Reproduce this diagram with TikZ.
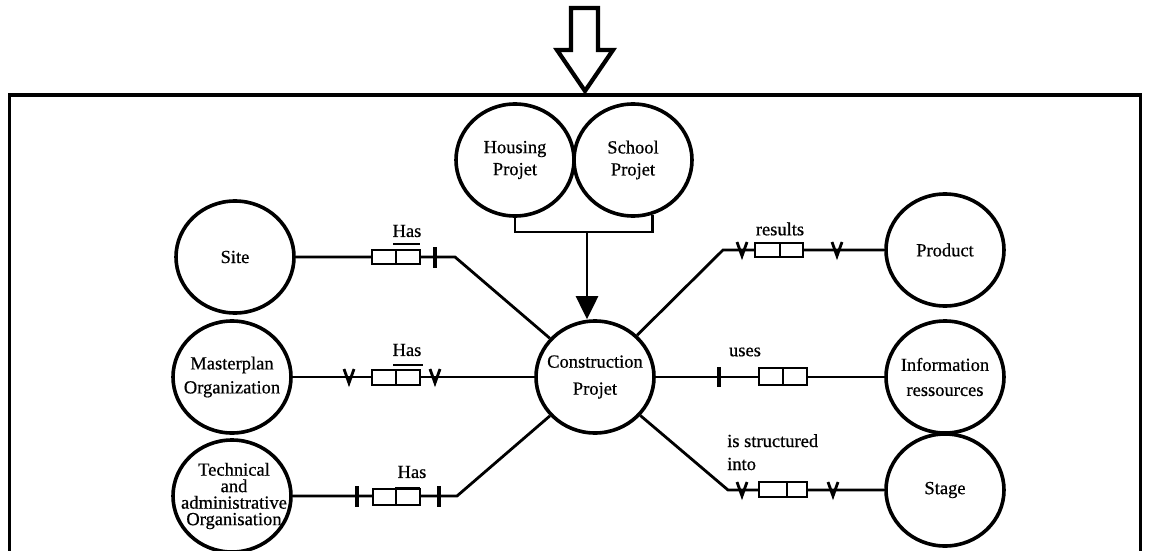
\documentclass[tikz,border=0pt]{standalone}
\usepackage{fontspec}
\setmainfont{Liberation Serif}[FakeBold=0.6]
\usetikzlibrary{shapes.geometric,arrows.meta}
\begin{document}
\begin{tikzpicture}[x=1pt,y=-1pt,
  ent/.style={draw,line width=3.6pt,ellipse,minimum width=118pt,minimum height=112pt,inner sep=0pt},
  etext/.style={align=center,inner sep=0pt,font=\fontsize{18.5}{22}\selectfont},
  conn/.style={line width=2.8pt},
  relbox/.style={line width=2.2pt,fill=white},
  vmark/.style={line width=2.8pt,line join=miter},
  barmark/.style={line width=3.6pt},
  lbl/.style={font=\fontsize{18.5}{22}\selectfont,inner sep=0pt}]
\useasboundingbox (0,0) rectangle (1149,551);
% frame
\draw[line width=3pt] (9,551) -- (9,95) -- (1140,95) -- (1140,551);
% big hollow arrow
\draw[line width=4.2pt,line join=miter,fill=white] (571,8) -- (598,8) -- (598,50) -- (613,50) -- (585,91) -- (557,50) -- (571,50) -- cycle;
% entities
\node[ent] (housing) at (515,160) {};
\node[etext] (thousing) at (housing.center) {Housing\\Projet};
\node[ent] (school) at (633,160) {};
\node[etext] (tschool) at (school.center) {School\\Projet};
\node[ent] (cp) at (595,377) {};
\node[etext,font=\fontsize{18.5}{27}\selectfont] (tcp) at (cp.center) {Construction\\Projet};
\node[ent] (site) at (235,257) {};
\node[etext] (tsite) at (site.center) {Site};
\node[ent] (mp) at (232,377) {};
\node[etext,font=\fontsize{18.5}{24}\selectfont] (tmp) at (mp.center) {Masterplan\\Organization};
\node[ent] (tech) at (232,496) {};
\node[etext,font=\fontsize{18.5}{16.5}\selectfont] (ttech) at ([xshift=2pt]tech.center) {Technical\\and\\administrative\\Organisation};
\node[ent] (prod) at (945,250) {};
\node[etext] (tprod) at (prod.center) {Product};
\node[ent] (info) at (945,377) {};
\node[etext,font=\fontsize{18.5}{25}\selectfont] (tinfo) at (info.center) {Information\\ressources};
\node[ent] (stage) at (945,490) {};
\node[etext] (tstage) at (stage.center) {Stage};
% generalisation bracket
\coordinate (bj) at (587,232);
\draw[conn] (housing.south) -- (housing.south |- bj) -- (bj -| school.290) -- (school.290);
\draw[conn,-{Triangle[width=22pt,length=23pt]}] (bj) -- (bj |- cp.north);
% Site -- has
\coordinate (c1) at (455,257);
\draw[conn] (site.east) -- (c1) -- (cp);
\draw[relbox] (372,250) rectangle (420,264); \draw[line width=2.2pt] (396,250) -- (396,264);
\draw[line width=2.2pt] (393,244) -- (420,244);
\draw[barmark] (435,247) -- (435,268);
\node[lbl] (l1) at (407,231) {Has};
% Masterplan -- has
\draw[conn] (mp.east) -- (cp.west);
\draw[vmark] (344,369) -- (349,383) -- (354,369);
\draw[vmark] (430,369) -- (435,383) -- (440,369);
\draw[relbox] (372,370) rectangle (420,385); \draw[line width=2.2pt] (396,370) -- (396,385);
\draw[line width=2.2pt] (393,365) -- (423,365);
\node[lbl] (l2) at (407,350) {Has};
% Technical -- has
\coordinate (c3) at (457,496);
\draw[conn] (tech.east) -- (c3) -- (cp);
\draw[barmark] (357,486) -- (357,507);
\draw[barmark] (439,486) -- (439,507);
\draw[relbox] (373,489) rectangle (420,505); \draw[line width=2.2pt] (396,489) -- (396,505);
\draw[line width=3pt] (395,488) -- (420,488);
\node[lbl] (l3) at (412,472) {Has};
% Product -- results
\coordinate (c4) at (723,250);
\draw[conn] (cp) -- (c4) -- (prod.west);
\draw[vmark] (737,242) -- (742,256) -- (747,242);
\draw[vmark] (832,242) -- (837,256) -- (842,242);
\draw[relbox] (755,243) rectangle (803,257); \draw[line width=2.2pt] (780,243) -- (780,257);
\node[lbl] (l4) at (780,229) {results};
% Information -- uses
\draw[conn] (cp.east) -- (info.west);
\draw[barmark] (719,367) -- (719,387);
\draw[relbox] (759,368) rectangle (807,385); \draw[line width=2.2pt] (783,368) -- (783,385);
\node[lbl] (l5) at (745,352) {uses};
% Stage -- is structured into
\coordinate (c6) at (728,490);
\draw[conn] (cp) -- (c6) -- (stage.west);
\draw[vmark] (737,482) -- (742,496) -- (747,482);
\draw[vmark] (828,482) -- (833,496) -- (838,482);
\draw[relbox] (759,482) rectangle (807,497); \draw[line width=2.2pt] (787,482) -- (787,497);
\node[lbl,align=left,anchor=north west,font=\fontsize{18.5}{23}\selectfont] (l6) at (727,434) {is structured\\into};
\end{tikzpicture}
\end{document}
